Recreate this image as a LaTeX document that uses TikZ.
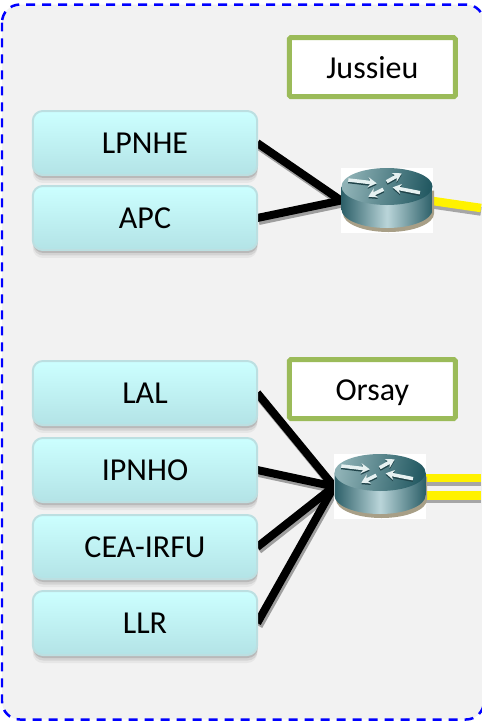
\documentclass[tikz,border=0pt]{standalone}
\usepackage{fontspec}
\setmainfont{Carlito}
\usetikzlibrary{arrows.meta,shadows,backgrounds}
\definecolor{panelgray}{HTML}{F2F2F2}
\definecolor{sitegreen}{HTML}{9BBB59}
\definecolor{boxtop}{HTML}{CCFFFF}
\definecolor{boxbottom}{HTML}{B3E3E6}
\definecolor{boxedge}{HTML}{BCDFE1}
\definecolor{routerdark}{HTML}{2C5F68}
\definecolor{routerlight}{HTML}{BAD5D9}
\definecolor{routertopl}{HTML}{8FB2B6}
\definecolor{routertopr}{HTML}{235962}
\definecolor{routerwhite}{HTML}{E6F1F1}
\definecolor{routerfoot}{HTML}{A89F87}
\tikzset{
  lab/.style={rounded corners=0.2cm, draw=boxedge, line width=0.04cm, outer sep=0pt,
    top color=boxtop, bottom color=boxbottom, minimum width=4.49cm, minimum height=1.28cm,
    font=\fontsize{18.2}{20}\selectfont, text height=0.43cm, text depth=0pt,
    drop shadow={shadow xshift=0cm, shadow yshift=-0.16cm, opacity=.10},
    drop shadow={shadow xshift=0.01cm, shadow yshift=-0.11cm, opacity=.18},
    drop shadow={shadow xshift=0.01cm, shadow yshift=-0.06cm, opacity=.30}},
  site/.style={rounded corners=0.03cm, draw=sitegreen, line width=0.1cm, fill=white, outer sep=0pt,
    minimum width=3.32cm, minimum height=1.18cm, font=\fontsize{18.2}{20}\selectfont,
    text height=0.44cm, text depth=0pt},
  routerbox/.style={fill=white, inner sep=0pt, outer sep=0pt, minimum width=1.84cm, minimum height=1.3cm},
  link/.style={line width=0.16cm, black},
  linkshadow/.style={line width=0.16cm, black!38},
  uplink/.style={line width=0.17cm, yellow},
  uplinkshadow/.style={line width=0.17cm, black!35},
  routerarrow/.style={line width=0.07cm, draw=routerwhite, -{Stealth[length=0.17cm,width=0.2cm]}},
  routerarrowshadow/.style={line width=0.07cm, draw=routerdark!70!black, -{Stealth[length=0.17cm,width=0.2cm]}},
  router/.pic={
    \fill[routerfoot] (-44,-10) -- (-44,13) arc[start angle=180, end angle=0, x radius=45.5, y radius=18.5] -- (47,-10) -- cycle;
    \shade[shading=axis, left color=routerdark, right color=routerdark, middle color=routerlight]
      (-45.5,-14) -- (-45.5,9) arc[start angle=180, end angle=0, x radius=45.5, y radius=18.5] -- (45.5,-14) -- cycle;
    \shade[left color=routertopl, right color=routertopr, shading angle=80]
      (0,-14) ellipse[x radius=45.5, y radius=18.5];
    \foreach \tailx/\taily/\headx/\heady in {-38.7/-20.5/-10.3/-17.2, -0.3/-18.8/14.7/-27.2, 33/-7.8/5.7/-13.2, -3.7/-11.2/-18.7/-3.8} {
      \draw[routerarrowshadow] (\tailx,\taily+1.5) -- (\headx,\heady+1.5);
      \draw[routerarrow] (\tailx,\taily) -- (\headx,\heady);
    }
  }
}
\begin{document}
\begin{tikzpicture}[x=0.02cm, y=-0.02cm]
  \useasboundingbox (0,0) rectangle (481,721);

  \node[site] (jussieu) at (372.3,67.2) {Jussieu};
  \node[site] (orsay)   at (372.3,389)  {Orsay};

  \node[lab] (lpnhe) at (145,143)   {LPNHE};
  \node[lab] (apc)   at (145,218)   {APC};
  \node[lab] (lal)   at (145,393)   {LAL};
  \node[lab] (ipnho) at (145,470)   {IPNHO};
  \node[lab] (cea)   at (145,547)   {CEA-IRFU};
  \node[lab] (llr)   at (145,623)   {LLR};

  \node[routerbox] (routerA) at (387,200.5) {};
  \node[routerbox] (routerB) at (380,486.5) {};

  \coordinate (startA)  at (433,201);
  \coordinate (outA)    at (481,208);
  \coordinate (startB1) at (426,478);
  \coordinate (outB1)   at (481,478);
  \coordinate (startB2) at (426,495.5);
  \coordinate (outB2)   at (481,495.5);

  \begin{scope}[on background layer]
    \draw[blue, dashed, dash pattern=on 0.18cm off 0.14cm, line width=0.05cm, fill=panelgray, rounded corners=0.36cm]
      (2,4.5) rectangle (484,719.5);
    \foreach \from/\to in {lpnhe/routerA, apc/routerA, lal/routerB, ipnho/routerB, cea/routerB, llr/routerB} {
      \draw[linkshadow] ([xshift=0.03cm,yshift=-0.06cm]\from.east) to ([xshift=0.03cm,yshift=-0.06cm]\to.west);
    }
    \foreach \from/\to in {lpnhe/routerA, apc/routerA, lal/routerB, ipnho/routerB, cea/routerB, llr/routerB} {
      \draw[link] (\from.east) to (\to.west);
    }
  \end{scope}

  \foreach \from/\to in {startA/outA, startB1/outB1, startB2/outB2} {
    \draw[uplinkshadow] ([yshift=-0.07cm]\from) to ([yshift=-0.07cm]\to);
    \draw[uplink] (\from) to (\to);
  }

  \pic at (routerA) {router};
  \pic at (routerB) {router};
\end{tikzpicture}
\end{document}
